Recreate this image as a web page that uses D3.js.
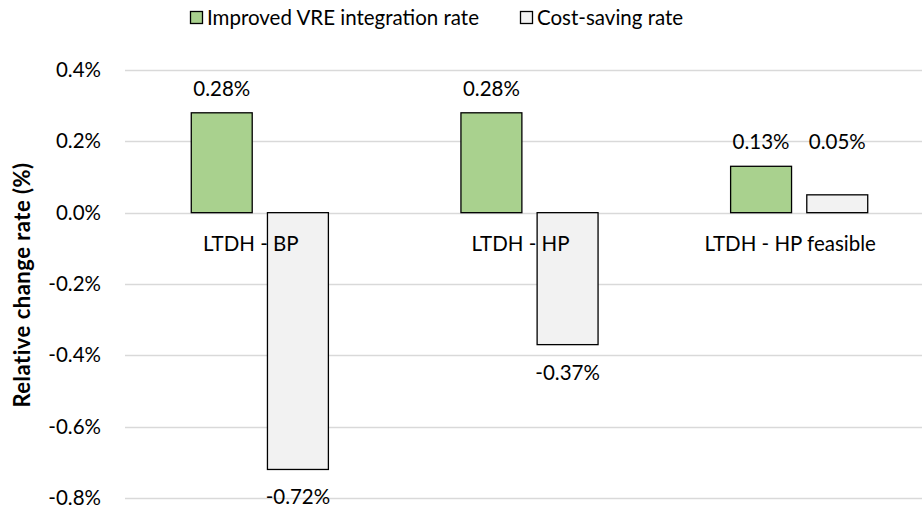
<!DOCTYPE html>
<html>
<head>
<meta charset="utf-8">
<script src="https://cdn.jsdelivr.net/npm/d3@7"></script>
<style>
  body { margin: 0; background: #fff; }
  text { font-family: Lato, "Open Sans", sans-serif; fill: #000; }
</style>
</head>
<body>
<svg id="chart" width="922" height="507"></svg>
<script>
'use strict';
// data
const categories = ['LTDH - BP', 'LTDH - HP', 'LTDH - HP feasible'];
const seriesNames = ['Improved VRE integration rate', 'Cost-saving rate'];
const vreRate = [0.0028, 0.0028, 0.0013];
const costRate = [-0.0072, -0.0037, 0.0005];
const yTicks = [0.004, 0.002, 0, -0.002, -0.004, -0.006, -0.008];

const colors = ['#a9d18e', '#f2f2f2'];
const svg = d3.select('#chart');
const fs = 20.5;
const pct = (digits) => (d) => d3.format('.' + digits + 'f')(d * 100).replace('\u2212', '-') + '%';

const x = d3.scaleBand().domain(categories).range([125, 934]);
const xs = d3.scaleBand().domain(seriesNames).range([0, x.bandwidth()]).paddingInner(0.2).paddingOuter(0.87);
const y = d3.scaleLinear().domain([-0.008, 0.004]).range([498, 70]);

// gridlines
svg.append('g').selectAll('line').data(yTicks).enter().append('line')
    .attr('x1', 125).attr('x2', 922)
    .attr('y1', (d) => Math.round(y(d)) + 0.5)
    .attr('y2', (d) => Math.round(y(d)) + 0.5)
    .attr('stroke', '#d9d9d9').attr('stroke-width', 1.5);

// y axis labels
const yAxis = d3.axisLeft(y).tickValues(yTicks).tickSize(0).tickPadding(0)
    .tickFormat(pct(1));
const ya = svg.append('g').attr('transform', 'translate(101,0)').call(yAxis);
ya.select('.domain').remove();
ya.selectAll('text').style('font-size', fs + 'px').style('font-family', 'Lato, sans-serif').attr('fill', '#000');

// axis title
svg.append('text')
    .attr('transform', 'translate(30,285) rotate(-90)')
    .attr('text-anchor', 'middle')
    .style('font-size', '22px').style('font-weight', 'bold')
    .style('letter-spacing', '0.5px')
    .text('Relative change rate (%)');

// bars
const rows = [];
categories.forEach((c, i) => {
    rows.push({ cat: c, s: seriesNames[0], v: vreRate[i], k: 0 });
    rows.push({ cat: c, s: seriesNames[1], v: costRate[i], k: 1 });
});

svg.append('g').selectAll('rect').data(rows).enter().append('rect')
    .attr('x', (d) => x(d.cat) + xs(d.s))
    .attr('width', xs.bandwidth())
    .attr('y', (d) => y(Math.max(0, d.v)))
    .attr('height', (d) => Math.abs(y(d.v) - y(0)))
    .attr('fill', (d) => colors[d.k])
    .attr('stroke', '#000').attr('stroke-width', 1.3);

// value labels
svg.append('g').selectAll('text').data(rows).enter().append('text')
    .attr('x', (d) => x(d.cat) + xs(d.s) + xs.bandwidth() / 2)
    .attr('y', (d) => d.v >= 0 ? Math.min(y(d.v), y(0.0013)) - 17 : y(d.v) + 35)
    .attr('text-anchor', 'middle')
    .style('font-size', fs + 'px')
    .text((d) => pct(2)(d.v));

// category labels
svg.append('g').selectAll('text').data(categories).enter().append('text')
    .attr('x', (d) => x(d) + x.bandwidth() / 2 - 9)
    .attr('y', 251)
    .attr('text-anchor', 'middle')
    .style('font-size', fs + 'px')
    .text((d) => d);

// legend
const legX = [190, 520];
const leg = svg.append('g').selectAll('g').data(seriesNames).enter().append('g')
    .attr('transform', (d, i) => 'translate(' + legX[i] + ',0)');
leg.append('rect').attr('x', 0.5).attr('y', 11.5).attr('width', 12).attr('height', 12)
    .attr('fill', (d, i) => colors[i]).attr('stroke', '#000').attr('stroke-width', 1.3);
leg.append('text').attr('x', 17).attr('y', 25)
    .style('font-size', fs + 'px')
    .text((d) => d);
</script>
</body>
</html>
